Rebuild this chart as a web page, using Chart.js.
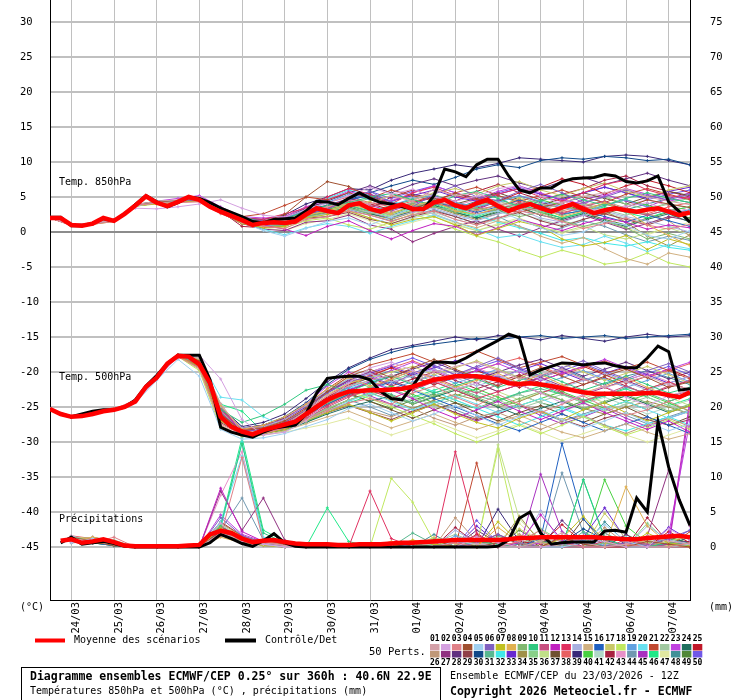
<!DOCTYPE html>
<html>
<head>
<meta charset="utf-8">
<script src="https://cdn.jsdelivr.net/npm/chart.js@4"></script>
<style>body{margin:0;background:#fff}canvas{display:block}</style>
</head>
<body>
<canvas id="ens" width="740" height="700"></canvas>
<script>
// time axis: hours after 23/03/2026 12Z
const hours6 = [0,6,12,18,24,30,36,42,48,54,60,66,72,78,84,90,96,102,108,114,120,126,132,138,144,150,156,162,168,174,180,186,192,198,204,210,216,222,228,234,240,246,252,258,264,270,276,282,288,294,300,306,312,318,324,330,336,342,348,354,360];
const hours12 = [0,12,24,36,48,60,72,84,96,108,120,132,144,156,168,180,192,204,216,228,240,252,264,276,288,300,312,324,336,348,360];
const rrHours12 = [12,24,36,48,60,72,84,96,108,120,132,144,156,168,180,192,204,216,228,240,252,264,276,288,300,312,324,336,348,360];
const dayHours = [12,36,60,84,108,132,156,180,204,228,252,276,300,324,348];
const dayLabels = ['24/03','25/03','26/03','27/03','28/03','29/03','30/03','31/03','01/04','02/04','03/04','04/04','05/04','06/04','07/04'];
const leftTicks = [-45,-40,-35,-30,-25,-20,-15,-10,-5,0,5,10,15,20,25,30];
const rightTicks = [0,5,10,15,20,25,30,35,40,45,50,55,60,65,70,75];

// mean and control (6h)
const t850Mean = [2.0,2.0,1.0,0.9,1.2,2.0,1.6,2.6,3.8,5.1,4.2,3.7,4.3,5.0,4.6,3.6,2.9,2.3,1.7,1.0,1.3,1.4,1.3,1.5,2.5,3.4,3.0,2.7,3.8,4.1,3.3,2.9,3.5,3.9,3.3,3.3,4.2,4.6,3.8,3.4,4.1,4.6,3.7,3.0,3.6,4.0,3.4,2.9,3.5,4.0,3.3,2.7,3.1,3.4,3.1,2.9,3.2,3.4,2.9,2.4,2.8];
const t850Ctrl = [2.1,2.1,0.9,0.9,1.2,1.9,1.6,2.6,3.9,5.2,4.3,3.6,4.2,5.0,4.8,4.2,3.4,2.8,2.2,1.5,1.3,1.8,1.9,2.0,3.0,4.4,4.3,3.9,4.8,5.6,4.8,4.2,4.0,3.6,3.3,3.2,5.2,9.0,8.6,7.9,9.6,10.4,10.4,8.0,6.0,5.6,6.3,6.3,7.2,7.6,7.7,7.8,8.2,8.0,7.2,7.0,7.3,8.0,4.3,2.9,1.4];
const t500Mean = [-25.3,-26.0,-26.4,-26.3,-26.0,-25.6,-25.4,-25.0,-24.2,-22.1,-20.8,-18.8,-17.7,-17.8,-18.9,-21.6,-26.4,-27.8,-28.5,-28.9,-28.3,-27.9,-27.5,-27.1,-26.0,-25.0,-24.0,-23.3,-22.8,-22.7,-22.6,-22.6,-22.5,-22.4,-22.1,-21.6,-21.1,-20.9,-20.6,-20.6,-20.6,-20.8,-21.1,-21.6,-21.7,-21.6,-21.8,-22.0,-22.3,-22.6,-22.9,-23.1,-23.1,-23.1,-23.1,-23.1,-23.0,-23.0,-23.3,-23.6,-22.9];
const t500Ctrl = [-25.3,-26.0,-26.4,-26.0,-25.6,-25.4,-25.4,-25.0,-24.0,-22.0,-20.5,-18.8,-17.6,-17.6,-17.6,-21.1,-27.9,-28.6,-29.0,-29.3,-28.6,-28.0,-27.8,-27.6,-26.0,-23.0,-20.9,-20.7,-20.6,-20.6,-21.1,-22.8,-23.8,-24.0,-22.0,-19.8,-18.6,-18.6,-18.7,-18.0,-17.1,-16.3,-15.5,-14.6,-15.1,-20.4,-19.7,-19.2,-18.7,-18.8,-19.0,-18.8,-18.7,-19.1,-19.4,-19.4,-18.0,-16.3,-17.1,-22.6,-22.4];
const rrMean = [null,0.9,1.1,0.6,0.8,1.1,0.7,0.2,0.1,0.1,0.1,0.1,0.1,0.2,0.3,1.8,2.3,2.0,1.2,0.7,0.9,1.0,0.7,0.5,0.4,0.4,0.4,0.3,0.3,0.4,0.4,0.4,0.5,0.6,0.6,0.7,0.8,0.9,1.0,1.0,1.0,1.0,1.0,1.1,1.3,1.3,1.4,1.4,1.4,1.4,1.4,1.4,1.3,1.2,1.1,1.1,1.3,1.4,1.5,1.6,1.4];
const rrCtrl = [null,0.6,1.4,0.4,0.6,0.8,0.5,0.1,0,0,0,0,0,0,0,0.6,1.8,1.2,0.5,0.1,0.9,1.9,0.6,0.1,0,0,0,0,0,0,0,0,0,0,0,0,0,0,0,0,0,0,0.1,1.0,4.1,5.0,2.0,0.4,0.6,0.7,0.7,0.7,2.3,2.4,2.1,7.0,5.0,17.9,11.4,6.7,3.1];

// 50 perturbed members (12h), temperature 850 hPa
const t850Members = [
[2.0,1.0,1.3,1.7,3.9,4.4,4.6,5.0,3.4,2.0,1.2,1.6,2.8,3.6,4.6,4.0,5.2,4.4,6.1,5.2,5.6,4.1,3.5,3.1,4.2,5.1,5.6,6.2,5.0,4.4,3.9],
[2.1,1.1,1.2,1.8,3.4,3.3,3.6,4.0,4.6,3.4,2.4,2.1,3.2,4.1,5.2,6.4,5.4,6.1,5.0,4.4,5.1,6.2,6.6,5.1,4.0,3.4,3.0,3.6,4.2,3.1,2.6],
[2.0,0.9,1.1,1.5,3.8,4.1,4.2,4.3,2.6,1.4,0.8,0.5,1.8,2.2,3.0,2.4,1.5,2.5,3.0,1.8,1.0,2.0,3.0,2.5,1.5,0.5,1.2,2.0,1.0,0.4,1.1],
[2.0,1.0,1.3,1.6,3.9,4.3,4.5,4.7,3.0,1.7,1.5,2.5,5.0,7.2,6.5,5.0,4.0,3.2,4.5,5.5,4.8,3.5,2.8,3.6,4.1,3.0,2.6,3.5,4.6,4.0,3.5],
[2.1,1.0,1.2,1.6,3.7,4.2,4.4,4.8,3.2,1.4,0.2,-0.6,0.5,1.5,2.0,1.0,2.2,3.5,2.5,1.5,2.5,3.0,1.8,0.6,-0.5,0.0,1.5,1.0,-0.5,-1.0,0.2],
[2.0,1.0,1.2,1.7,3.8,4.3,4.4,4.6,3.0,1.8,1.6,1.2,2.6,3.2,4.8,5.8,4.2,3.6,5.4,6.6,5.0,4.5,5.8,6.8,5.6,4.2,5.0,6.0,5.2,4.6,5.4],
[2.0,1.0,1.1,1.5,3.7,4.0,4.2,4.5,2.8,1.2,0.6,0.8,2.0,2.5,3.0,2.0,1.0,1.8,2.2,1.0,-0.5,0.5,1.5,0.8,-1.0,-2.0,-1.5,-0.5,-2.5,-1.0,-1.8],
[2.0,1.0,1.3,1.6,3.8,4.2,4.4,4.5,3.1,1.9,1.0,1.4,2.4,3.0,4.0,3.2,2.6,3.8,4.4,3.0,2.5,3.5,4.8,3.5,2.2,3.0,4.2,3.0,1.0,-0.5,-2.0],
[2.0,1.0,1.2,1.6,3.7,4.1,4.3,4.6,2.9,1.5,1.1,0.9,2.2,2.8,3.4,2.6,3.2,4.0,3.6,2.8,3.4,3.0,2.2,2.8,1.6,0.8,1.5,0.6,-1.0,-0.2,-1.0],
[2.0,1.1,1.2,1.6,3.9,4.4,4.5,4.8,3.4,2.2,1.4,1.8,3.0,3.8,4.2,5.0,5.5,4.6,3.8,5.2,5.8,4.8,3.6,4.4,5.4,4.6,3.8,4.8,5.6,4.8,4.2],
[2.0,1.0,1.2,1.6,3.8,4.2,4.4,4.7,3.0,1.6,1.2,1.4,2.6,3.4,4.4,3.6,4.2,3.0,4.0,3.6,2.6,3.2,4.2,3.4,2.6,3.6,4.4,3.0,2.4,3.2,2.8],
[2.0,1.0,1.2,1.5,3.8,4.2,4.3,4.5,2.8,1.5,1.0,0.4,-0.5,0.8,1.6,0.2,-1.0,0.2,1.2,0.8,-0.4,0.6,1.8,1.0,0.2,1.2,2.0,1.4,0.4,1.0,0.6],
[2.0,1.0,1.2,1.6,3.9,4.3,4.5,4.6,3.2,2.0,1.8,2.6,3.4,5.0,6.2,5.4,4.0,5.6,6.4,5.2,4.6,5.4,6.2,5.0,4.4,5.6,6.8,7.4,6.0,5.2,4.8],
[2.0,1.0,1.2,1.7,3.8,4.2,4.4,4.6,3.0,1.6,1.0,1.0,2.0,2.6,3.2,2.8,2.0,2.8,3.4,2.4,1.6,2.6,3.2,2.0,1.4,2.4,3.0,2.2,1.6,0.8,0.0],
[2.0,1.0,1.3,1.7,3.8,4.3,4.4,4.6,3.2,1.8,1.4,1.6,3.0,3.6,4.0,3.2,2.4,3.0,2.6,1.4,0.6,1.6,0.8,-0.6,-1.6,-0.8,-2.4,-3.8,-4.6,-3.0,-3.6],
[2.0,1.0,1.2,1.6,3.8,4.2,4.5,4.7,3.1,1.7,1.2,1.2,2.4,3.4,4.6,5.2,4.0,3.4,4.2,3.6,2.8,3.6,4.6,3.8,2.6,3.0,2.2,1.4,2.4,1.6,0.8],
[2.0,1.0,1.2,1.6,3.8,4.2,4.3,4.6,3.0,1.6,1.0,1.3,2.6,3.0,3.6,4.4,5.2,4.6,5.6,6.2,5.4,6.6,7.2,6.0,5.2,6.2,7.0,5.8,5.0,6.0,6.6],
[2.0,1.0,1.2,1.6,3.7,4.1,4.3,4.5,2.8,1.5,0.8,0.6,1.6,2.0,1.0,0.4,1.4,2.6,1.6,0.4,-0.6,-1.4,-2.6,-3.6,-2.6,-3.4,-4.6,-4.2,-3.0,-4.4,-5.0],
[2.0,1.0,1.2,1.6,3.8,4.3,4.4,4.6,3.1,1.8,1.4,1.8,3.2,4.2,5.4,4.6,3.8,4.8,5.2,4.2,3.6,4.2,5.2,4.4,3.6,2.8,3.8,4.6,3.6,2.6,3.2],
[2.0,1.0,1.2,1.6,3.8,4.2,4.4,4.6,3.0,1.4,0.4,-0.4,0.6,1.2,0.8,-0.2,0.8,1.6,2.4,1.4,0.4,-0.8,-0.4,-1.4,-2.2,-1.8,-0.6,-1.6,-2.8,-1.8,-2.4],
[2.0,1.0,1.3,1.6,3.8,4.3,4.5,4.8,3.4,2.2,2.6,3.8,5.0,4.6,5.6,4.8,6.0,5.2,4.4,5.6,6.4,5.2,4.4,5.2,6.0,5.0,4.2,5.4,6.2,5.4,4.6],
[2.0,1.0,1.2,1.6,3.8,4.2,4.4,4.6,3.0,1.6,1.2,1.2,2.2,2.6,3.4,2.8,3.4,4.2,3.6,3.0,3.6,4.4,3.6,2.8,3.4,4.0,3.2,2.4,3.2,4.0,3.4],
[2.0,1.0,1.2,1.7,3.9,4.4,4.8,5.2,3.6,2.2,2.0,2.2,3.6,4.6,5.8,5.0,4.4,5.6,6.6,5.6,4.8,5.8,6.6,5.6,4.6,4.0,5.2,6.2,5.4,4.4,5.0],
[2.0,1.0,1.2,1.6,3.7,4.1,4.3,4.5,2.9,1.5,1.0,1.0,2.2,2.8,3.6,2.6,2.0,3.0,3.8,2.8,2.0,2.8,3.6,2.4,1.8,2.6,1.6,0.8,1.8,2.6,1.4],
[2.0,1.0,1.2,1.6,3.8,4.2,4.4,4.6,3.0,1.7,1.2,1.4,2.8,3.6,4.8,4.0,3.2,4.2,5.0,4.2,3.4,4.4,5.6,6.4,7.6,6.8,5.4,6.6,7.4,6.6,5.6],
[2.0,1.0,1.2,1.6,3.8,4.2,4.4,4.6,3.1,1.8,1.4,1.6,2.8,3.4,4.2,3.4,2.8,3.6,4.4,3.6,3.0,3.8,4.6,3.8,3.0,3.8,4.4,3.4,2.6,1.6,-0.6],
[2.0,1.0,1.2,1.6,3.8,4.2,4.4,4.6,2.8,1.2,0.4,0.2,1.4,1.6,2.4,1.0,0.4,-1.4,-0.2,0.8,1.6,0.4,-0.6,0.6,1.6,2.4,1.4,0.4,1.2,2.2,1.6],
[2.0,1.0,1.2,1.6,3.8,4.2,4.5,4.8,3.4,2.0,1.6,2.0,3.4,4.4,5.6,6.6,5.6,6.8,7.6,6.6,7.4,8.0,7.0,6.2,7.2,7.8,6.8,7.6,8.4,7.4,6.6],
[2.0,1.0,1.2,1.6,3.8,4.2,4.3,4.5,2.7,1.2,0.6,0.8,2.0,2.2,2.8,1.8,1.2,2.2,3.0,2.2,1.2,2.0,2.8,1.6,0.8,1.8,2.6,1.8,1.0,2.0,2.6],
[2.0,1.0,1.2,1.6,3.8,4.2,4.4,4.6,3.1,1.8,1.4,1.8,3.2,3.8,4.6,5.6,6.6,7.4,6.8,7.8,9.0,9.6,9.2,10.2,10.6,10.4,10.8,10.6,10.2,10.4,9.6],
[2.0,1.0,1.2,1.6,3.8,4.2,4.4,4.6,3.0,1.6,1.0,1.2,2.4,3.0,3.8,3.0,3.8,4.6,3.8,3.0,3.8,4.6,3.8,3.2,2.4,3.2,4.0,3.2,2.4,3.2,2.6],
[2.0,1.0,1.2,1.6,3.8,4.2,4.4,4.6,3.2,1.9,1.6,2.0,3.4,4.8,6.0,5.2,4.4,3.6,4.6,3.4,2.4,1.4,0.6,-0.2,-1.2,-0.8,-1.6,-2.0,-1.4,-2.2,-2.6],
[2.0,1.0,1.2,1.6,3.8,4.2,4.4,4.6,3.0,1.6,1.2,1.4,2.6,3.4,4.4,5.4,4.4,5.2,6.0,5.0,4.4,5.4,6.2,5.4,4.6,5.6,6.4,5.6,4.8,5.8,6.4],
[2.0,1.0,1.2,1.6,3.8,4.2,4.4,4.6,3.0,1.6,1.2,1.0,2.2,2.8,3.4,2.6,1.8,2.8,3.6,2.6,1.8,2.6,3.4,2.4,3.6,4.2,3.0,1.4,-0.6,-2.0,-0.4],
[2.0,1.0,1.2,1.6,3.8,4.2,4.4,4.6,3.0,1.6,1.2,1.6,2.8,3.4,4.0,4.8,3.8,4.6,5.4,4.2,3.6,4.6,5.0,4.0,3.4,4.2,5.0,4.0,3.2,4.2,4.8],
[2.0,1.0,1.2,1.6,3.8,4.2,4.4,4.6,3.0,1.6,1.0,1.2,2.4,2.8,3.6,2.8,2.2,3.0,2.2,1.0,0.2,1.0,1.8,0.6,0.0,0.8,-0.4,-1.0,-0.2,0.6,-0.4],
[2.0,1.0,1.2,1.6,3.8,4.2,4.4,4.6,3.0,1.7,1.4,1.8,3.0,3.6,4.2,3.6,4.4,5.4,4.8,4.0,4.8,5.6,4.6,3.8,4.8,5.6,4.8,4.0,5.0,5.8,5.2],
[2.0,1.0,1.2,1.6,3.8,4.2,4.4,4.6,3.0,1.8,1.6,2.2,3.6,4.2,5.0,4.2,3.6,4.4,5.0,4.0,3.2,3.8,4.4,3.6,2.8,3.4,4.0,3.2,2.6,3.6,4.2],
[2.0,1.0,1.2,1.6,3.8,4.2,4.4,4.6,3.2,2.0,1.8,2.4,4.0,5.0,6.2,6.0,7.4,8.4,9.0,9.6,9.2,9.8,10.6,10.4,10.2,10.0,10.8,11.0,10.8,10.2,9.6],
[2.0,1.0,1.2,1.6,3.8,4.2,4.4,4.6,3.0,1.6,1.2,1.2,2.6,3.2,4.0,3.4,2.6,3.6,4.2,3.2,2.4,3.4,4.0,4.6,3.8,3.0,3.8,4.6,3.8,3.0,3.6],
[2.0,1.0,1.2,1.6,3.8,4.2,4.4,4.6,3.0,1.4,0.8,0.8,1.8,2.2,3.0,2.0,1.2,2.0,2.8,1.8,1.0,1.8,2.6,1.8,1.0,1.8,2.8,2.0,1.2,2.2,2.8],
[2.0,1.0,1.2,1.6,3.8,4.2,4.4,4.6,3.0,0.8,0.6,1.0,2.4,3.2,4.2,3.4,5.0,6.0,5.2,4.4,5.8,6.8,5.6,4.6,5.4,6.2,7.4,8.0,6.6,5.8,5.0],
[2.0,1.0,1.2,1.6,3.8,4.2,4.4,4.6,3.2,2.0,1.8,2.0,3.2,3.8,4.6,3.8,4.6,5.4,4.4,3.8,4.6,3.6,2.8,3.6,4.4,3.6,2.8,3.8,4.6,3.8,3.0],
[2.0,1.0,1.2,1.6,3.8,4.2,4.4,4.6,3.0,1.6,1.0,1.0,2.0,2.6,3.2,2.4,1.6,2.4,3.2,2.2,1.2,2.2,0.8,-0.2,0.6,1.6,0.8,-0.4,-1.4,-0.6,-1.2],
[2.0,1.0,1.2,1.6,3.8,4.2,4.4,4.6,3.0,1.6,1.2,1.4,2.8,3.6,4.6,3.8,3.0,4.0,5.0,4.0,3.2,4.4,5.2,4.2,3.4,4.6,5.4,4.4,3.6,4.8,5.6],
[2.0,1.0,1.2,1.6,3.8,4.2,4.4,4.6,3.0,1.6,1.2,1.2,2.6,3.0,3.8,3.0,2.2,3.2,4.0,3.0,2.2,3.2,4.0,3.0,2.0,2.8,3.6,2.8,2.0,3.0,3.6],
[2.0,1.0,1.2,1.6,3.8,4.2,4.4,4.6,3.0,1.4,0.6,0.2,1.2,1.8,2.6,1.6,0.6,1.4,2.2,1.2,0.2,1.2,2.0,0.8,-0.2,0.6,1.6,0.6,-0.4,0.6,1.4],
[2.0,1.0,1.2,1.6,3.8,4.2,4.4,4.6,3.0,1.6,1.2,1.4,2.6,3.4,4.2,3.2,2.4,3.4,4.2,3.4,4.4,5.2,4.2,3.4,4.2,5.0,4.2,3.2,4.0,4.8,4.2],
[2.0,1.0,1.2,1.6,3.8,4.2,4.4,4.6,3.0,1.6,1.0,1.2,2.4,3.0,3.8,2.8,2.0,3.0,3.8,2.8,2.0,3.0,3.8,2.8,2.0,2.8,1.8,1.0,2.0,2.8,2.0],
[2.0,1.0,1.2,1.6,3.8,4.2,4.4,4.6,3.1,1.8,1.4,1.6,3.0,3.8,4.8,5.8,4.8,5.8,6.6,5.6,4.6,5.6,6.4,5.4,4.6,5.6,6.4,5.6,4.6,5.4,6.0]
];

// temperature 500 hPa
const t500Members = [
[-25.3,-26.4,-26.0,-25.3,-24.0,-20.6,-17.6,-18.0,-24.5,-28.6,-28.4,-27.6,-25.6,-23.4,-22.0,-21.2,-20.4,-21.6,-20.0,-19.2,-18.6,-19.8,-21.0,-20.4,-19.6,-21.0,-22.2,-21.4,-20.6,-21.8,-22.4],
[-25.2,-26.3,-26.1,-25.5,-24.3,-21.0,-17.8,-17.6,-21.0,-26.8,-29.0,-28.6,-27.0,-24.2,-21.6,-19.4,-18.6,-19.8,-21.2,-22.4,-21.6,-20.4,-21.8,-23.0,-24.4,-23.2,-22.0,-23.6,-24.8,-23.4,-22.6],
[-25.3,-26.4,-26.0,-25.4,-24.2,-20.8,-17.8,-19.4,-27.4,-29.0,-28.8,-28.0,-26.8,-25.6,-24.4,-23.8,-24.6,-23.0,-22.0,-23.6,-24.8,-23.2,-24.6,-25.8,-24.6,-23.4,-25.0,-26.2,-25.4,-24.2,-25.6],
[-25.3,-26.4,-26.0,-25.3,-24.2,-20.6,-17.5,-18.4,-26.0,-28.4,-28.0,-27.0,-25.2,-22.8,-20.6,-19.6,-20.8,-19.4,-18.2,-19.6,-20.8,-22.0,-20.6,-19.4,-20.6,-21.8,-20.6,-19.6,-20.8,-22.2,-21.4],
[-25.3,-26.4,-26.0,-25.4,-24.4,-21.2,-18.2,-20.6,-28.2,-29.6,-29.4,-28.8,-27.8,-26.8,-25.2,-24.6,-25.8,-27.0,-26.0,-24.8,-26.2,-27.6,-26.4,-25.4,-26.8,-28.0,-27.0,-25.8,-27.2,-28.4,-27.4],
[-25.3,-26.4,-26.0,-25.4,-24.2,-20.8,-17.6,-18.6,-25.8,-28.4,-28.2,-27.2,-25.4,-23.0,-21.4,-20.6,-21.8,-20.2,-19.0,-20.4,-19.2,-18.0,-19.4,-20.6,-19.4,-18.4,-19.8,-21.0,-19.8,-18.8,-20.0],
[-25.3,-26.4,-26.0,-25.4,-24.2,-20.8,-17.8,-19.2,-27.0,-28.8,-28.8,-28.2,-27.0,-25.8,-24.6,-25.8,-27.0,-25.8,-24.6,-26.0,-27.2,-28.0,-26.6,-25.6,-26.8,-25.4,-24.4,-25.8,-27.0,-25.8,-24.8],
[-25.3,-26.4,-26.0,-25.3,-24.1,-20.7,-17.6,-18.2,-24.8,-28.2,-27.6,-26.4,-24.6,-22.4,-20.8,-22.0,-21.0,-19.8,-21.0,-22.2,-21.2,-20.2,-21.6,-20.4,-21.8,-23.0,-22.0,-20.8,-22.2,-23.4,-22.6],
[-25.3,-26.4,-26.0,-25.4,-24.2,-20.8,-17.7,-18.8,-26.2,-28.6,-28.4,-27.6,-26.2,-24.4,-23.0,-22.2,-23.4,-24.6,-23.4,-22.4,-23.6,-24.8,-23.8,-22.8,-24.0,-25.2,-24.2,-23.2,-24.4,-25.6,-24.6],
[-25.3,-26.4,-26.0,-25.4,-24.2,-20.8,-17.7,-18.6,-25.4,-27.2,-26.2,-24.6,-22.6,-21.8,-22.8,-21.6,-20.6,-21.8,-23.0,-22.0,-21.0,-22.2,-21.2,-20.2,-21.4,-22.6,-21.6,-20.6,-21.8,-23.0,-22.2],
[-25.3,-26.4,-26.0,-25.4,-24.2,-20.8,-17.8,-19.0,-26.6,-28.8,-28.6,-28.0,-26.6,-25.0,-23.6,-22.4,-21.0,-19.8,-20.8,-22.0,-23.0,-21.8,-20.6,-21.8,-23.0,-24.2,-23.2,-22.0,-23.2,-22.0,-21.2],
[-25.3,-26.4,-26.0,-25.4,-24.2,-20.8,-17.7,-18.4,-25.4,-28.4,-28.2,-27.4,-25.8,-24.2,-22.6,-21.4,-22.6,-23.8,-25.4,-26.6,-25.4,-24.2,-25.6,-26.8,-25.6,-24.4,-25.8,-27.0,-28.2,-27.0,-28.6],
[-25.3,-26.4,-26.0,-25.4,-24.2,-20.8,-17.7,-18.8,-26.0,-28.6,-28.6,-27.8,-26.4,-24.8,-23.4,-22.6,-23.8,-22.6,-21.4,-22.6,-23.8,-22.8,-21.8,-23.0,-22.0,-21.0,-22.2,-23.4,-22.4,-21.4,-22.6],
[-25.3,-26.4,-26.0,-25.4,-24.2,-20.8,-17.7,-18.4,-25.0,-28.0,-27.8,-26.8,-24.8,-22.6,-21.0,-20.2,-21.4,-20.6,-19.6,-20.8,-22.0,-21.0,-19.8,-21.0,-22.2,-21.2,-20.2,-21.4,-22.6,-21.6,-20.6],
[-25.3,-26.4,-26.0,-25.4,-24.2,-20.8,-17.8,-19.6,-27.6,-29.2,-29.0,-28.4,-27.4,-26.4,-25.6,-26.8,-28.0,-27.0,-26.0,-27.2,-28.2,-27.2,-26.2,-27.4,-28.6,-29.4,-28.4,-27.4,-28.6,-29.6,-28.8],
[-25.3,-26.4,-26.0,-25.4,-24.2,-20.8,-17.7,-18.8,-26.4,-28.8,-28.4,-27.6,-26.2,-24.6,-23.2,-22.4,-21.4,-22.6,-23.8,-25.0,-26.2,-27.4,-28.4,-27.2,-26.0,-27.2,-28.4,-27.4,-26.4,-27.6,-28.8],
[-25.3,-26.4,-26.0,-25.4,-24.2,-20.8,-17.7,-18.6,-25.6,-28.4,-28.0,-27.0,-25.2,-23.2,-21.6,-20.8,-20.0,-19.2,-20.4,-19.4,-18.4,-19.6,-20.8,-19.8,-18.8,-20.0,-21.2,-20.2,-19.2,-20.4,-21.6],
[-25.3,-26.4,-26.0,-25.4,-24.2,-20.8,-17.8,-19.8,-28.0,-29.2,-28.6,-27.4,-25.6,-24.0,-22.8,-23.8,-25.0,-26.2,-27.4,-28.8,-30.0,-28.8,-27.6,-28.8,-27.6,-26.4,-27.8,-29.0,-28.0,-26.8,-28.2],
[-25.3,-26.4,-26.0,-25.4,-24.2,-20.8,-17.7,-18.6,-25.6,-28.4,-28.2,-27.4,-25.8,-23.8,-22.2,-21.2,-22.4,-21.4,-20.4,-21.6,-20.6,-19.6,-20.8,-21.8,-20.8,-19.8,-21.0,-22.2,-21.2,-20.2,-21.4],
[-25.3,-26.4,-26.0,-25.4,-24.2,-20.8,-17.6,-18.0,-23.6,-24.0,-26.4,-27.8,-27.0,-25.6,-24.2,-23.0,-24.2,-25.4,-24.4,-23.4,-24.6,-25.8,-24.8,-23.8,-25.0,-26.2,-25.2,-24.2,-25.4,-26.6,-25.6],
[-25.3,-26.4,-26.0,-25.4,-24.2,-20.8,-17.7,-18.4,-25.2,-28.2,-27.8,-26.8,-24.8,-22.4,-20.4,-19.0,-18.2,-17.4,-18.6,-17.8,-17.0,-18.2,-19.4,-18.6,-17.8,-19.0,-20.2,-19.4,-18.6,-19.8,-21.0],
[-25.3,-26.4,-26.0,-25.4,-24.2,-20.8,-17.7,-18.8,-26.2,-28.6,-28.4,-27.8,-26.6,-25.2,-24.0,-23.2,-22.4,-23.6,-24.8,-23.8,-22.8,-24.0,-25.2,-24.2,-23.2,-24.4,-25.6,-24.6,-23.6,-24.8,-26.0],
[-25.3,-26.4,-26.0,-25.4,-24.2,-20.8,-17.7,-18.6,-25.6,-28.2,-27.8,-26.8,-24.6,-22.0,-20.0,-21.2,-19.8,-18.6,-19.8,-21.0,-19.8,-18.8,-20.0,-21.2,-20.2,-19.2,-18.2,-19.4,-20.6,-19.6,-18.6],
[-25.3,-26.4,-26.0,-25.4,-24.2,-20.8,-17.8,-19.2,-26.8,-29.0,-28.8,-28.2,-27.2,-26.0,-25.0,-24.2,-23.4,-24.6,-23.6,-22.6,-23.8,-25.0,-26.2,-25.2,-24.2,-25.4,-24.4,-23.4,-24.6,-25.8,-24.8],
[-25.3,-26.4,-26.0,-25.4,-24.2,-20.8,-17.7,-18.6,-25.8,-28.4,-28.0,-27.2,-25.6,-23.6,-21.8,-20.6,-19.4,-20.6,-21.8,-20.8,-19.8,-21.0,-22.2,-21.2,-20.2,-19.2,-20.4,-21.6,-20.6,-19.6,-20.8],
[-25.3,-26.4,-26.0,-25.4,-24.2,-20.8,-17.7,-18.8,-26.0,-28.6,-28.6,-27.8,-26.6,-25.4,-24.8,-25.6,-26.4,-25.2,-26.6,-27.6,-26.4,-25.8,-27.0,-28.2,-27.0,-26.2,-27.6,-28.8,-27.6,-26.6,-27.8],
[-25.3,-26.4,-26.0,-25.4,-24.2,-20.8,-17.7,-18.4,-25.2,-28.0,-27.6,-26.6,-24.8,-22.8,-21.2,-20.0,-21.2,-22.4,-21.4,-20.4,-21.6,-22.8,-21.8,-20.8,-22.0,-23.2,-22.2,-21.2,-22.4,-23.6,-22.6],
[-25.3,-26.4,-26.0,-25.4,-24.2,-20.8,-17.7,-18.6,-25.6,-28.4,-28.2,-27.4,-26.0,-24.2,-22.6,-21.6,-20.6,-19.6,-18.6,-19.8,-21.0,-20.0,-19.0,-18.2,-19.4,-20.6,-19.6,-18.6,-19.8,-21.0,-20.0],
[-25.3,-26.4,-26.0,-25.4,-24.2,-20.8,-17.8,-19.4,-27.2,-29.0,-28.8,-28.2,-27.0,-25.8,-24.8,-25.8,-26.8,-25.6,-24.6,-25.8,-26.8,-26.0,-24.8,-25.6,-26.8,-27.8,-26.6,-25.8,-26.8,-27.6,-26.8],
[-25.3,-26.4,-26.0,-25.4,-24.2,-20.8,-17.7,-18.4,-25.0,-28.0,-27.6,-26.4,-24.4,-21.8,-19.6,-18.2,-17.2,-16.4,-16.0,-15.6,-15.2,-15.4,-15.0,-14.8,-15.2,-15.0,-14.8,-15.2,-15.0,-14.8,-14.6],
[-25.3,-26.4,-26.0,-25.4,-24.2,-20.8,-17.7,-18.8,-26.2,-28.6,-28.4,-27.6,-26.2,-24.6,-23.2,-22.2,-23.2,-24.4,-23.0,-22.2,-23.4,-24.2,-23.0,-22.4,-23.2,-24.0,-23.4,-22.2,-23.0,-24.2,-23.2],
[-25.3,-26.4,-26.0,-25.4,-24.2,-20.8,-17.7,-18.6,-25.8,-28.4,-28.2,-27.4,-25.8,-24.0,-22.4,-21.4,-20.4,-21.6,-22.8,-24.0,-25.2,-26.4,-27.6,-26.4,-25.2,-26.4,-27.6,-28.4,-27.4,-26.4,-27.6],
[-25.3,-26.4,-26.0,-25.4,-24.2,-20.8,-17.7,-18.6,-25.6,-28.2,-27.8,-26.8,-25.0,-23.0,-21.2,-20.2,-19.2,-20.4,-19.4,-18.4,-19.6,-20.8,-19.8,-18.8,-20.0,-21.2,-20.2,-19.2,-20.4,-21.6,-20.6],
[-25.3,-26.4,-26.0,-25.4,-24.2,-20.8,-17.8,-19.0,-26.6,-28.8,-28.6,-28.0,-26.8,-25.4,-24.0,-23.0,-24.0,-25.2,-24.0,-23.2,-24.0,-25.0,-24.2,-23.0,-24.0,-25.2,-26.0,-25.0,-24.2,-25.0,-26.0],
[-25.3,-26.4,-26.0,-25.4,-24.2,-20.8,-17.7,-18.4,-25.2,-28.0,-27.6,-26.6,-24.8,-22.8,-21.0,-22.2,-21.2,-20.2,-21.4,-22.6,-21.6,-20.6,-21.8,-23.0,-22.0,-21.0,-22.2,-23.4,-22.4,-21.4,-22.6],
[-25.3,-26.4,-26.0,-25.4,-24.2,-20.8,-17.7,-18.8,-26.0,-28.6,-28.4,-27.6,-26.2,-24.6,-23.2,-22.2,-21.2,-22.4,-23.6,-22.6,-21.6,-22.8,-24.0,-23.0,-22.0,-23.2,-24.4,-23.4,-22.4,-23.6,-24.8],
[-25.3,-26.4,-26.0,-25.4,-24.2,-20.8,-17.7,-18.6,-25.6,-28.4,-28.2,-27.4,-26.0,-24.4,-23.0,-24.2,-25.4,-26.6,-25.4,-24.4,-25.8,-27.0,-25.8,-24.8,-26.0,-27.2,-26.0,-25.0,-26.4,-27.6,-26.4],
[-25.3,-26.4,-26.0,-25.4,-24.2,-20.8,-17.7,-18.4,-25.4,-28.2,-28.0,-27.0,-25.4,-23.4,-21.6,-20.4,-19.4,-18.4,-19.6,-20.8,-19.8,-18.8,-18.0,-19.2,-20.4,-19.4,-18.4,-19.6,-20.8,-19.8,-18.8],
[-25.3,-26.4,-26.0,-25.4,-24.2,-20.8,-17.7,-18.4,-25.0,-27.8,-27.2,-26.0,-23.8,-21.4,-19.4,-18.0,-16.8,-16.2,-15.6,-15.0,-15.4,-14.8,-15.0,-15.4,-14.8,-15.2,-15.6,-15.0,-14.6,-15.0,-14.8],
[-25.3,-26.4,-26.0,-25.4,-24.2,-20.8,-17.7,-18.8,-26.2,-28.6,-28.4,-27.8,-26.6,-25.2,-24.0,-23.0,-22.0,-23.2,-24.4,-23.4,-22.4,-23.6,-24.8,-23.8,-22.8,-24.0,-25.2,-24.2,-23.2,-24.4,-25.6],
[-25.3,-26.4,-26.0,-25.4,-24.2,-20.8,-17.7,-18.6,-25.8,-28.4,-28.2,-27.4,-25.8,-24.0,-22.4,-23.6,-24.8,-23.8,-22.8,-24.0,-25.2,-24.2,-23.2,-24.4,-25.6,-24.6,-23.6,-24.8,-26.0,-25.0,-24.0],
[-25.3,-26.4,-26.0,-25.4,-24.2,-20.8,-17.7,-18.6,-25.6,-28.4,-28.0,-27.2,-25.6,-23.6,-21.8,-20.8,-22.0,-21.0,-20.0,-21.2,-22.4,-21.4,-20.4,-21.6,-22.8,-21.8,-20.8,-22.0,-23.2,-22.2,-21.2],
[-25.3,-26.4,-26.0,-25.4,-24.2,-20.8,-17.7,-18.4,-25.4,-28.2,-27.8,-26.8,-25.0,-23.0,-21.2,-20.0,-19.0,-20.2,-21.4,-20.4,-19.4,-20.6,-21.8,-20.8,-19.8,-21.0,-22.2,-21.2,-20.2,-21.4,-22.6],
[-25.3,-26.4,-26.0,-25.4,-24.2,-20.8,-17.8,-19.2,-27.0,-29.0,-28.8,-28.0,-26.6,-25.2,-24.0,-25.0,-26.2,-25.2,-24.2,-25.4,-26.6,-25.6,-24.6,-25.8,-27.0,-26.0,-25.0,-26.2,-27.4,-26.4,-25.4],
[-25.3,-26.4,-26.0,-25.4,-24.2,-20.8,-17.7,-18.6,-25.6,-28.4,-28.0,-27.2,-25.6,-23.8,-22.2,-23.4,-24.6,-25.8,-24.6,-25.8,-27.0,-26.0,-24.8,-26.2,-27.4,-26.4,-25.2,-26.6,-27.8,-26.6,-25.6],
[-25.3,-26.4,-26.0,-25.4,-24.2,-20.8,-17.7,-18.2,-24.6,-25.6,-28.6,-28.4,-27.2,-25.8,-24.4,-23.4,-22.4,-23.6,-22.6,-21.6,-22.8,-24.0,-23.0,-22.0,-23.2,-24.4,-23.4,-22.4,-23.6,-24.8,-23.8],
[-25.3,-26.4,-26.0,-25.4,-24.2,-20.8,-17.8,-19.0,-26.8,-29.0,-29.0,-28.6,-28.0,-27.4,-26.6,-27.8,-29.0,-28.0,-27.0,-28.2,-29.4,-28.4,-27.4,-28.6,-29.8,-28.8,-27.8,-29.0,-30.0,-29.0,-28.0],
[-25.3,-26.4,-26.0,-25.4,-24.2,-20.8,-17.7,-18.6,-25.8,-28.4,-28.2,-27.4,-25.8,-23.8,-22.0,-20.8,-19.8,-20.8,-21.8,-20.6,-19.8,-20.8,-21.6,-20.8,-19.6,-20.8,-21.8,-20.6,-19.8,-20.8,-21.8],
[-25.3,-26.4,-26.0,-25.4,-24.2,-20.8,-17.7,-18.8,-26.0,-28.6,-28.4,-27.6,-26.2,-24.6,-23.2,-24.2,-25.2,-24.0,-23.2,-24.4,-25.2,-24.0,-23.2,-24.4,-25.2,-24.2,-23.0,-24.2,-25.4,-24.2,-23.2],
[-25.3,-26.4,-26.0,-25.4,-24.2,-20.8,-17.7,-18.4,-25.2,-28.0,-27.6,-26.6,-24.8,-22.8,-21.0,-20.0,-19.0,-18.0,-19.2,-20.4,-19.4,-18.4,-19.6,-20.8,-19.8,-18.8,-20.0,-21.2,-20.2,-19.2,-20.4]
];

// precipitation (mm per step), from 12h
const rrMembers = [
[1.2,0.8,0.4,0,0,0,0,2.0,1.0,0.6,0.2,0,0,0,0.4,0,0,0.6,1.2,0.4,0,0,0.8,2.0,0.6,0,0.4,1.6,0.8,0.4],
[0.8,1.0,0.6,0,0,0,0,3.4,0.8,0.4,0,0,0,0,0,0.6,0,0,0,1.4,0.6,0,0,0.4,1.2,0.8,0,0,2.6,1.0],
[1.0,0.6,1.4,0,0,0,0,1.6,12.8,0.8,0.2,0,0,0,0,0,0,0,0.6,0,0,0.8,2.4,0.6,0,0,0.4,0,0,0.6],
[1.4,0.8,0.2,0,0,0,0,2.2,0.6,1.0,0.4,0,0,0,0,0,0.4,1.0,0,0,0.6,0,0,1.4,0.4,0,0,0.8,0.4,0],
[0.6,1.2,0.4,0,0,0,0,1.8,1.2,0.4,0,0,0.3,0,0,0,0,0,0.8,0.4,0,0,0,0,0.6,3.2,0.8,0,0,0.4],
[1.0,0.8,0.6,0,0,0,0,4.2,1.6,0.6,0.2,0,0,0,0,0,0,0,0,0.6,1.8,0.6,0,0,0,0,0.6,0.2,1.2,2.4],
[1.2,0.6,0.4,0,0,0,0,2.6,0.8,0.2,0,0,0,0.4,0,0,1.0,0.4,0,0,3.6,0.6,0,1.2,4.4,0.8,0,2.0,0.6,0.2],
[0.8,1.4,0.8,0,0,0,0,1.4,0.6,0.8,0.4,0,0,0,0,0.8,0,0,0,0,2.8,0.6,0,0,0,0,8.6,3.0,0.4,0],
[1.4,1.0,0.2,0,0,0,0,2.8,1.0,0.4,0,0,0,0,0,0,0,0.4,0,0,0,0,0.8,0.2,0,0.6,0,0,0,0.4],
[1.0,0.8,0.4,0,0,0,0,3.0,14.8,2.0,0.6,0,0,0,0,0,0.6,0,0,0.8,0.4,0,0,0,9.6,1.2,0,0,0.6,0.2],
[0.6,0.8,0.8,0,0,0,0,2.0,1.4,0.6,0.2,0,0,0,0,0,0,0,0.8,1.6,0.6,0,0,0.6,0,0,1.0,0.4,0,0.6],
[1.2,0.6,0.4,0,0,0,0,8.4,2.2,0.8,0.4,0,0,0,0,0,0,0,0,0,0,0.6,4.6,1.0,0,0,0,0,0.4,21.0],
[1.0,1.2,0.6,0,0,0,0,2.2,1.0,0.4,0,0,0,0,8.0,1.2,0,0,13.6,2.0,0,0,0,0,0,0.8,0.2,0,0,0],
[1.6,0.8,0.4,0,0,0,0,1.6,0.8,0.2,0,0,0,0,0,0,0,0,2.4,0.6,0,0,5.2,0.4,1.4,0.4,0,3.0,1.0,0.4],
[0.8,1.0,0.6,0,0,0,0,2.6,1.2,0.6,0.4,0,0,0,0,0.4,0,0,0,0.6,0,1.8,0.6,0,0,0,0,1.0,0.4,0],
[1.2,0.6,0.2,0,0,0,0,2.4,1.0,0.4,0.2,0,0,0,0,0,0,0,0,0,0,0,1.2,14.8,4.0,0.8,0,0,0.6,0.4],
[1.0,1.4,0.8,0,0,0,0,1.8,0.6,0.4,0,0,0,0,0,0,0,1.4,0.4,0.4,0,2.6,0.8,0,0,4.8,1.2,0.6,0.2,0],
[1.4,1.2,0.6,0,0,0,0,3.2,1.4,0.8,0.2,0,0,0,0,9.8,6.4,0.8,0,0,14.0,0.6,0,0,0,0,0,0,0.8,1.6],
[0.8,0.6,0.4,0,0,0,0,2.0,1.0,0.6,0,0,0,0,0,0,0,0,1.6,0.4,0,0,0,0.6,1.0,0.2,0,0,0,0.4],
[1.0,0.8,0.6,0,0,0,0,3.6,13.0,1.4,0.4,0,0,0,0,0,0,0,0,0,0.6,0,0,0,0,0.8,1.4,0.4,0,0],
[1.2,0.8,0.4,0,0,0,0,2.2,1.0,0.4,0,0,0,0,0,0,0,0,0,12.0,0.8,0,0,0,0,0,0,0,0,2.2],
[0.6,1.0,1.0,0,0,0,0,1.6,0.8,0.4,0.2,0,0,0,0,0,0,0.6,1.8,0.6,0,0,0,0,0,2.0,0.6,0,0,0],
[1.4,0.8,0.6,0,0,0,0,4.6,1.8,0.8,0.4,0,0,0,0,0,0,0,0,0,0,0,0.6,0.2,0,0,0,0,1.8,18.0],
[1.0,0.6,0.2,0,0,0,0,2.4,1.2,0.4,0.2,0,0,0,0,0,0,0,0,0.8,0.4,0,0,0,0.6,0.2,0,0,0.4,1.4],
[0.8,1.2,0.6,0,0,0,0,2.8,1.4,0.6,0,0,0,0,0,0,0,0,0,1.8,0,0.8,0.4,3.2,0.6,0,0.6,0,2.2,0.6],
[1.2,1.0,0.8,0,0,0,0,1.8,0.6,0.4,0.2,0,0,0,0.4,0,0,0,4.2,0.8,0,0,1.6,0,0,2.8,0.4,0.4,0.8,0.2],
[1.0,0.8,0.4,0,0,0,0,8.0,2.4,7.0,1.0,0,0,0,0,0,0,0,0,0,0,0,0,0,0,0,0.4,1.6,11.0,3.0],
[1.4,0.6,0.4,0,0,0,0,2.2,1.0,0.6,0.4,0,0,0,0,0.6,0,0,0,2.4,0.6,0,0,3.8,0.8,0,1.8,0,0.6,0.8],
[0.8,1.0,0.6,0,0,0,0,2.4,0.8,0.2,0,0,0,0,0,0,0,0,0,0.6,1.8,0.4,0,0,0,0,0,0,0,0.4],
[1.0,1.2,0.2,0,0,0,0,1.6,1.4,0.8,0.4,0,0,0,0,0,0,0,0,0,0,0,0.8,0.6,2.6,1.0,0,0,0.4,0],
[1.2,0.8,0.6,0,0,0,0,3.0,1.2,0.6,0,0,0,0,0,0,2.0,0.4,0,0,1.6,0.4,0,0,2.2,0.6,0,0.4,1.2,0.6],
[0.6,0.8,0.4,0,0,0,0,2.6,15.0,1.0,0.4,0,0,0,0,0,0,0,0,0,0,0,0,0.6,0,0,0,0,0,0.4],
[1.0,1.4,0.8,0,0,0,0,2.0,1.0,0.4,0.2,0,0,0,0,0,0,0,0,3.0,0.6,0,0,0,1.4,5.6,1.0,0,2.8,1.0],
[1.4,0.6,0.4,0,0,0,0,3.4,1.6,0.6,0.2,0,0,0,0,0,0,0,0.6,0.2,0,4.4,0.6,0,0,0,1.8,0.4,0,0],
[0.8,1.0,0.6,0,0,0,0,2.4,1.0,0.4,0,0,0,0,0,0,0,1.2,0,0,0,0,2.6,0.8,0,0,0,3.4,0.6,0.4],
[1.2,0.8,0.8,0,0,0,0,2.2,1.2,0.6,0.4,0,0,0,0,0,0,0,0,0,14.6,4.0,1.0,0,0,0,0,0,0,0],
[1.0,0.6,0.4,0,0,0,0,1.8,0.8,0.4,0,0,0,0,0,0,0,0,1.0,0,0,1.8,0,0,4.0,0.4,0,0,1.2,0.6],
[1.6,1.2,0.6,0,0,0,0,2.8,1.4,0.6,0.2,0,0,0,0,0,0,0,0,0,0,0,0,0.6,1.6,0.4,0,0,0,0],
[1.0,0.8,0.4,0,0,0,0,3.0,1.2,0.4,0,0,0,0,0,0,0,0,0,0,5.4,0.8,0,0,0,2.0,0.4,0,0,0],
[0.8,0.6,0.2,0,0,0,0,2.0,1.0,0.6,0.4,0,0,0,0,0,0,0,0,0,0,0,0,0,0,9.6,3.0,0.6,0,0],
[1.2,1.0,0.6,0,0,0,0,2.6,1.4,0.8,0.2,0,0,0,0,0,0,0,0,0,0,0.6,1.4,0.4,0,0,0,0.8,0.4,0],
[1.0,0.8,0.8,0,0,0,0,3.6,1.6,0.6,0.4,0,0,0,0,0,0,0,2.8,0.4,0,0,0,1.6,0,0,0,4.2,0.6,0.2],
[1.4,1.2,0.4,0,0,0,0,7.4,13.6,1.2,0.6,0,0,0,0,0,0,0,0,0,0,0,0,0,0,0,0,0,0,0],
[0.8,0.8,0.6,0,0,0,0,2.4,7.0,1.0,0.4,0,0,0,0,0,0,0,0,0,0,0,0,10.6,2.0,0.4,0,0,0,0],
[1.2,1.0,0.4,0,0,0,0,2.0,0.8,0.6,0.2,0,0,0,0,0,0,0,0,0,0,0,10.4,2.2,0.4,0,0,0,0,20.0],
[1.0,0.6,0.6,0,0,0,0,3.2,15.6,2.4,0.8,0,5.6,0.8,0,0,0,0,0,0,0,0,0,0,9.6,1.4,0,0,0,0],
[0.8,1.2,0.8,0,0,0,0,2.2,1.0,0.4,0,0,0,0,0,0,0,0,0,0,0.8,3.4,0.4,0,0,0,0,1.4,0,0],
[1.4,0.8,0.4,0,0,0,0,2.6,1.2,0.6,0.2,0,0,0,0,0,0,1.8,0,0,0,0.4,1.2,0.4,0,3.6,0.6,0,0,0],
[1.0,1.0,0.6,0,0,0,0,1.8,0.8,0.4,0,0,0,0,0,0,0,0,0,0,0,2.4,0.6,0,0,0,0,0.6,1.4,0.6],
[1.2,0.6,0.2,0,0,0,0,2.8,1.2,0.6,0.2,0,0,0,0,0,0,0,0,3.8,0.6,0,0,0,0,1.2,0,0,0.8,2.4]
];

const memberColors = ['#d4a0a8','#d4a0e0','#e08088','#a05030','#a0d0f0','#8060c0','#c0c020','#e0b050','#80b870','#30c880',
  '#c85080','#c020c0','#e03060','#a8b0e0','#d0b080','#2060c0','#c8c868','#c0e860','#60a0e0','#68e0f0',
  '#c04830','#a0c8a0','#c040e0','#207060','#c01828','#c09878','#903080','#603080','#904048','#104888',
  '#58b890','#40e8e8','#6828d0','#a09048','#88d088','#c0e088','#705030','#e86060','#382878','#48d040',
  '#b0d8c8','#a82040','#e890c8','#7098b0','#a830c0','#20e888','#e0e8a0','#409098','#508838','#7058e8'];

const pts = (xs, ys) => ys.map((v, i) => ({x: xs[i], y: v}));

function memberSet(xs, ys, i, axis) {
  return {
    data: pts(xs, ys), yAxisID: axis, order: 10 + i,
    borderColor: memberColors[i], backgroundColor: memberColors[i],
    borderWidth: 1, pointStyle: 'cross', pointRadius: 1.5, pointBorderWidth: 1
  };
}

const datasets = [
  {data: pts(hours6, t850Mean), yAxisID: 'y', order: 0, borderColor: '#ff0000', borderWidth: 4.5, pointRadius: 0},
  {data: pts(hours6, t500Mean), yAxisID: 'y', order: 0, borderColor: '#ff0000', borderWidth: 4.5, pointRadius: 0},
  {data: pts(hours6, rrMean), yAxisID: 'yR', order: 0, borderColor: '#ff0000', borderWidth: 4.5, pointRadius: 0},
  {data: pts(hours6, t850Ctrl), yAxisID: 'y', order: 1, borderColor: '#000', borderWidth: 3, pointRadius: 0},
  {data: pts(hours6, t500Ctrl), yAxisID: 'y', order: 1, borderColor: '#000', borderWidth: 3, pointRadius: 0},
  {data: pts(hours6, rrCtrl), yAxisID: 'yR', order: 1, borderColor: '#000', borderWidth: 3, pointRadius: 0}
];
t850Members.forEach((m, i) => datasets.push(memberSet(hours12, m, i, 'y')));
t500Members.forEach((m, i) => datasets.push(memberSet(hours12, m, i, 'y')));
rrMembers.forEach((m, i) => datasets.push(memberSet(rrHours12, m, i, 'yR')));

const mono = '"DejaVu Sans Mono", monospace';

const decor = {
  id: 'decor',
  afterDraw(chart) {
    const c = chart.ctx;
    c.save();
    c.fillStyle = '#000';
    c.textBaseline = 'middle';
    c.textAlign = 'left';
    c.font = '10px ' + mono;
    c.fillText('Temp. 850hPa', 59, 182);
    c.fillText('Temp. 500hPa', 59, 377);
    c.fillText('Précipitations', 59, 519);
    c.fillText('(°C)', 20, 607);
    c.fillText('(mm)', 709, 607);
    // legend
    c.fillStyle = '#ff0000';
    c.fillRect(35, 638.5, 30, 4);
    c.fillStyle = '#000';
    c.fillRect(225, 638.5, 31, 4);
    c.fillText('Moyenne des scénarios', 74, 640);
    c.fillText('Contrôle/Det', 265, 640);
    c.font = '10.5px ' + mono;
    c.fillText('50 Perts.', 369, 652);
    // member colour key
    c.textAlign = 'center';
    c.font = 'bold 8px ' + mono;
    for (let k = 0; k < 25; k++) {
      const x = 430 + k * 10.95;
      c.fillStyle = memberColors[k];
      c.fillRect(x, 644, 9.5, 6.5);
      c.fillStyle = memberColors[k + 25];
      c.fillRect(x, 651, 9.5, 6.5);
      c.fillStyle = '#000';
      c.fillText(String(k + 1).padStart(2, '0'), x + 4.75, 638.5);
      c.fillText(String(k + 26), x + 4.75, 662.5);
    }
    // title box
    c.textAlign = 'left';
    c.strokeStyle = '#000';
    c.lineWidth = 1;
    c.strokeRect(21.5, 667.5, 419, 40);
    c.font = 'bold 11.5px ' + mono;
    c.fillText('Diagramme ensembles ECMWF/CEP 0.25° sur 360h : 40.6N 22.9E', 30, 677);
    c.font = '10px ' + mono;
    c.fillText('Températures 850hPa et 500hPa (°C) , précipitations (mm)', 30, 691.5);
    c.fillText('Ensemble ECMWF/CEP du 23/03/2026 - 12Z', 450, 676);
    c.font = 'bold 11.5px ' + mono;
    c.fillText('Copyright 2026 Meteociel.fr - ECMWF', 450, 692);
    c.restore();
  }
};

new Chart(document.getElementById('ens'), {
  type: 'line',
  data: {datasets},
  plugins: [decor],
  options: {
    responsive: false,
    animation: false,
    devicePixelRatio: 1,
    events: [],
    layout: {autoPadding: false, padding: {left: 20, right: 0, top: 0, bottom: 0}},
    elements: {line: {tension: 0, fill: false}},
    plugins: {legend: {display: false}, tooltip: {enabled: false}},
    scales: {
      x: {
        type: 'linear', min: 0, max: 360,
        afterBuildTicks: s => { s.ticks = dayHours.map(v => ({value: v})); },
        afterFit: s => { s.height = 100; s.paddingLeft = 0; s.paddingRight = 0; },
        ticks: {
          autoSkip: false, minRotation: 90, maxRotation: 90, labelOffset: 5, padding: 2,
          color: '#000', font: {family: mono, size: 10.5},
          callback: v => dayLabels[dayHours.indexOf(v)]
        },
        grid: {color: '#c0c0c0', lineWidth: 1, drawTicks: false},
        border: {color: '#000', width: 1}
      },
      y: {
        position: 'left', min: -52.571, max: 33.143,
        afterBuildTicks: s => { s.ticks = leftTicks.map(v => ({value: v})); },
        afterFit: s => { s.width = 30; s.paddingTop = 0; s.paddingBottom = 0; },
        ticks: {crossAlign: 'far', color: '#000', font: {family: mono, size: 10.5}, callback: v => String(v)},
        grid: {color: ctx => (ctx.tick && ctx.tick.value === 0) ? '#8c8c8c' : '#c0c0c0', lineWidth: 2, drawTicks: false},
        border: {color: '#000', width: 1}
      },
      yR: {
        position: 'right', min: -7.571, max: 78.143,
        afterBuildTicks: s => { s.ticks = rightTicks.map(v => ({value: v})); },
        afterFit: s => { s.width = 50; s.paddingTop = 0; s.paddingBottom = 0; },
        ticks: {padding: 20, color: '#000', font: {family: mono, size: 10.5}, callback: v => String(v)},
        grid: {display: false, drawTicks: false},
        border: {color: '#000', width: 1}
      }
    }
  }
});
</script>
</body>
</html>
